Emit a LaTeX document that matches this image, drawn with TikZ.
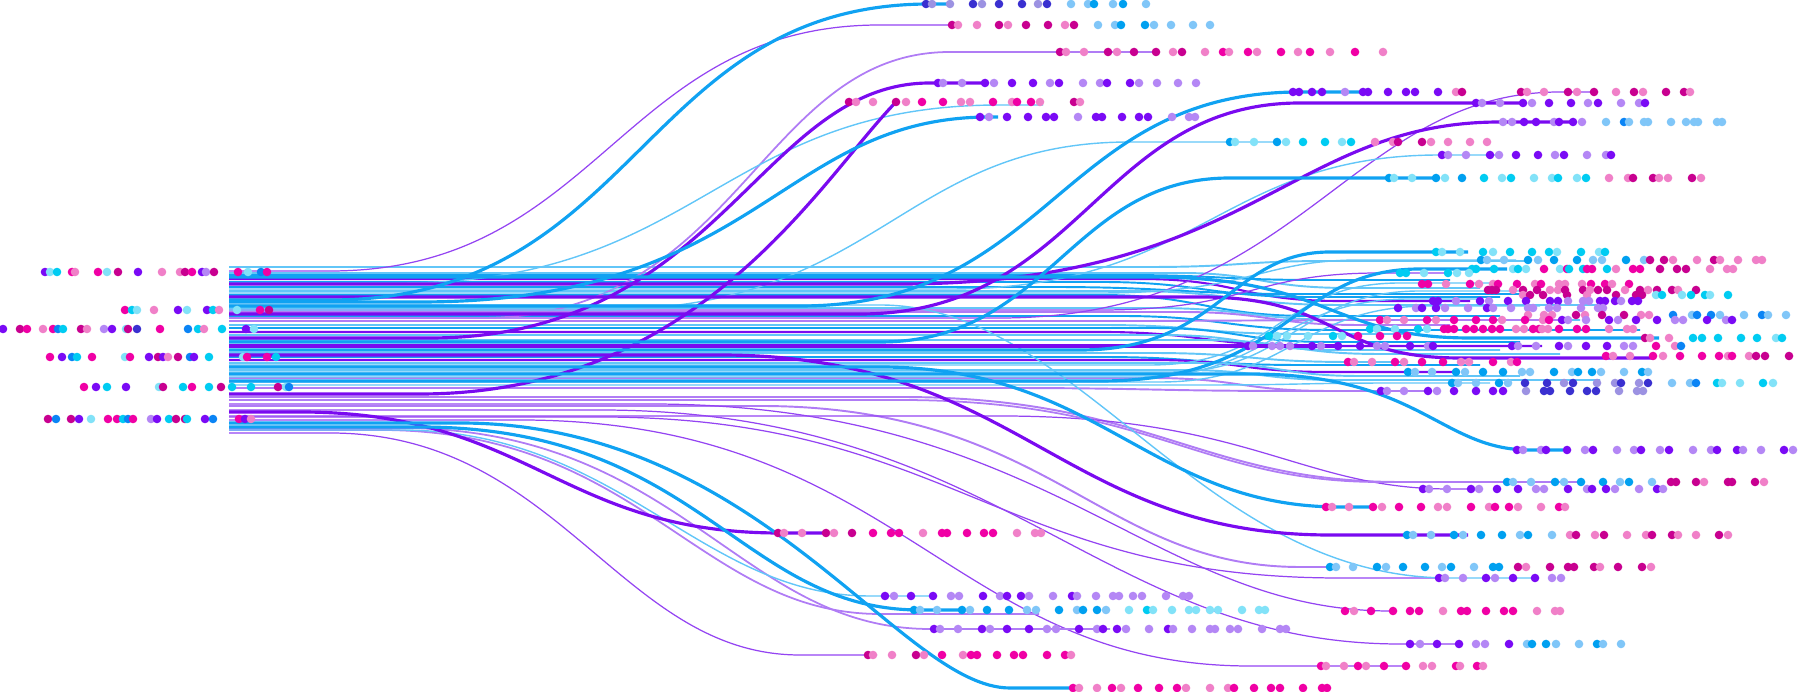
\documentclass[tikz,border=0pt]{standalone}
\usepackage{tikz}

\definecolor{vio}{HTML}{7A0AF5}
\definecolor{lvio}{HTML}{B487F5}
\definecolor{azu}{HTML}{00A0F0}
\definecolor{blu}{HTML}{0A84F5}
\definecolor{lblu}{HTML}{80C6F8}
\definecolor{cya}{HTML}{00CCF2}
\definecolor{lcya}{HTML}{82E2F8}
\definecolor{mag}{HTML}{F000A5}
\definecolor{dmag}{HTML}{C80090}
\definecolor{pnk}{HTML}{F080C8}
\definecolor{ind}{HTML}{3A30D0}
\definecolor{lind}{HTML}{9C92E2}
\definecolor{wireblue}{HTML}{10A2F2}
\definecolor{wireviolet}{HTML}{7A0AF0}
\definecolor{wirepurple}{HTML}{9444F2}
\definecolor{wirelilac}{HTML}{B07CF5}
\definecolor{wiresky}{HTML}{62C6F8}

\tikzset{
  tb/.style={draw=wireblue, line width=0.9pt},
  tv/.style={draw=wireviolet, line width=0.9pt},
  tp/.style={draw=wirepurple, line width=0.35pt},
  lp/.style={draw=wirelilac, line width=0.5pt},
  lb/.style={draw=wiresky, line width=0.4pt},
  bb/.style={draw=wireblue, line width=0.55pt},
  bv/.style={draw=wireviolet, line width=0.6pt},
  bl/.style={draw=wiresky, line width=0.55pt},
  bp/.style={draw=wirelilac, line width=0.55pt}
}

% a row of dots at height #1, list of x/colour
\newcommand{\dotrow}[2]{\foreach \px/\pc in {#2}{\fill[fill=\pc] (\px,#1) circle (4.3);}}
% a wire leaving the bundle at height #2, bending over #3..#6 to height #7, ending at #8
\newcommand{\wire}[8]{\draw[#1] (229,#2) -- (#3,#2) .. controls (#4,#2) and (#5,#7) .. (#6,#7) -- (#8,#7);}

\begin{document}
\begin{tikzpicture}[x=0.01cm, y=-0.01cm]
  \useasboundingbox (0,0) rectangle (1800,692);

  % Bundle wires running into the right-hand cluster
  \wire{bl}{267}{1150}{1240}{1240}{1330}{261}{1530}
  \wire{bl}{273}{1180}{1260}{1260}{1350}{288}{1480}
  \wire{bb}{275}{1120}{1220}{1220}{1320}{280}{1450}
  \wire{bv}{279}{1140}{1240}{1240}{1340}{301}{1470}
  \wire{bb}{282}{1100}{1200}{1210}{1310}{297}{1500}
  \wire{bb}{287}{1050}{1170}{1180}{1300}{294}{1520}
  \wire{bl}{291}{1130}{1230}{1240}{1340}{305}{1600}
  \wire{bb}{295}{1100}{1200}{1210}{1310}{316}{1500}
  \wire{bl}{308}{1150}{1250}{1250}{1350}{320}{1580}
  \wire{bp}{312}{1180}{1270}{1270}{1360}{325}{1450}
  \wire{bb}{316}{1120}{1220}{1230}{1330}{330}{1640}
  \wire{bp}{321}{1150}{1250}{1250}{1350}{320}{1563}
  \wire{bl}{325}{1100}{1200}{1200}{1300}{334}{1420}
  \wire{bb}{328}{1150}{1240}{1240}{1330}{342}{1520}
  \wire{bv}{332}{1100}{1200}{1210}{1310}{346}{1542}
  \wire{bl}{335}{1160}{1250}{1250}{1340}{350}{1500}
  \wire{bl}{340}{1200}{1290}{1290}{1380}{354}{1560}
  \wire{bl}{353}{1150}{1250}{1250}{1350}{362}{1400}
  \wire{bb}{357}{1100}{1200}{1200}{1300}{365}{1480}
  \wire{bv}{360}{1150}{1240}{1240}{1330}{372}{1456}
  \wire{bl}{363}{1200}{1280}{1280}{1360}{376}{1520}
  \wire{bl}{370}{1180}{1260}{1260}{1340}{380}{1600}
  \wire{bp}{378}{1150}{1240}{1240}{1330}{391}{1428}
  \wire{bp}{388}{1000}{1150}{1150}{1300}{391}{1381}
  \wire{bp}{397}{900}{1150}{1200}{1400}{482}{1507}
  \wire{bp}{406}{760}{1050}{1100}{1300}{567}{1330}

  % Thin wires
  \wire{tp}{271}{330}{600}{620}{880}{25}{960}
  \wire{tp}{318}{1000}{1300}{1350}{1560}{92}{1594}
  \wire{tp}{310}{1100}{1250}{1250}{1380}{273}{1450}
  \wire{tp}{416}{1000}{1250}{1300}{1450}{489}{1471}
  \wire{tp}{433}{330}{560}{620}{800}{655}{877}
  \wire{tp}{420}{520}{900}{950}{1250}{666}{1406}
  \wire{tp}{410}{600}{1000}{1100}{1400}{644}{1459}
  \wire{tp}{404}{650}{1050}{1150}{1390}{611}{1393}
  \wire{tp}{417}{600}{950}{1000}{1340}{578}{1440}
  \wire{lp}{318}{480}{740}{760}{950}{52}{1157}
  \wire{lp}{400}{900}{1150}{1200}{1380}{482}{1581}
  \wire{lp}{430}{380}{640}{700}{880}{614}{1039}
  \wire{lp}{428}{400}{680}{740}{930}{629}{1110}
  \wire{lb}{283}{400}{700}{720}{1000}{105}{1043}
  \wire{lb}{310}{600}{880}{900}{1130}{142}{1277}
  \wire{lb}{289}{950}{1200}{1220}{1440}{155}{1497}
  \wire{lb}{293}{1100}{1250}{1260}{1360}{260}{1516}
  \wire{lb}{305}{880}{1080}{1200}{1450}{578}{1535}
  \wire{lb}{430}{400}{620}{700}{870}{596}{933}
  \wire{lb}{385}{1200}{1300}{1300}{1400}{383}{1490}
  \wire{lb}{365}{1150}{1280}{1280}{1400}{283}{1500}
  \wire{lb}{372}{1170}{1290}{1300}{1420}{291}{1520}
  \wire{lb}{377}{1140}{1270}{1280}{1410}{299}{1480}
  \wire{lb}{382}{1160}{1290}{1300}{1430}{306}{1540}

  % Thick wires
  \wire{tv}{338}{430}{720}{760}{930}{83}{985}
  \draw[tv] (229,394) -- (420,394) .. controls (700,394) and (820,180) .. (896,102);
  \wire{tv}{314}{860}{1080}{1100}{1300}{103}{1523}
  \wire{tv}{284}{900}{1250}{1290}{1500}{122}{1573}
  \wire{tv}{346}{1200}{1250}{1250}{1300}{346}{1338}
  \wire{tv}{297}{1200}{1340}{1330}{1460}{358}{1653}
  \wire{tv}{412}{300}{530}{560}{780}{533}{826}
  \wire{tv}{355}{720}{1020}{1060}{1330}{535}{1468}
  \wire{tb}{300}{330}{640}{640}{930}{4}{950}
  \wire{tb}{302}{420}{760}{780}{990}{117}{998}
  \wire{tb}{306}{800}{1050}{1060}{1300}{92}{1368}
  \wire{tb}{342}{880}{1050}{1070}{1230}{178}{1436}
  \wire{tb}{350}{1080}{1220}{1230}{1330}{252}{1468}
  \wire{tb}{381}{1100}{1290}{1290}{1420}{269}{1507}
  \wire{tb}{277}{1150}{1330}{1330}{1470}{338}{1659}
  \wire{tb}{374}{1250}{1420}{1440}{1530}{450}{1563}
  \wire{tb}{367}{880}{1100}{1150}{1340}{507}{1376}
  \wire{tb}{427}{420}{700}{740}{920}{610}{962}
  \wire{tb}{423}{460}{760}{900}{1010}{688}{1081}

  % Dots on the left
  \dotrow{272}{45/vio,50/lcya,57/cya,72/mag,75/pnk,98/mag,107/lcya,118/dmag,138/vio,162/pnk,180/pnk,185/dmag,192/mag,202/vio,206/lvio,214/dmag,238/mag,248/lcya,261/blu,267/mag}
  \dotrow{310}{125/mag,132/cya,137/lcya,154/pnk,178/vio,187/lcya,207/vio,213/cya,219/pnk,237/lcya,260/mag,269/dmag}
  \dotrow{329}{3/vio,20/dmag,27/mag,43/pnk,53/mag,58/blu,63/cya,81/dmag,87/pnk,104/lvio,112/vio,126/lcya,128/dmag,137/ind,160/mag,188/blu,198/cya,204/pnk,222/cya,246/vio,254/lcya}
  \dotrow{357}{50/mag,62/vio,72/blu,77/cya,92/mag,125/lcya,130/mag,149/vio,158/dmag,163/vio,168/pnk,178/dmag,190/blu,194/vio,209/cya,243/lcya,247/mag,267/mag,276/cya}
  \dotrow{387}{84/mag,96/vio,107/cya,126/vio,159/lcya,163/dmag,183/cya,192/mag,209/cya,221/dmag,232/cya,251/cya,278/dmag,286/lcya,289/blu}
  \dotrow{419}{48/dmag,56/blu,71/dmag,79/vio,91/lcya,108/mag,117/mag,123/cya,128/blu,133/mag,151/lvio,157/vio,169/cya,176/dmag,185/dmag,187/cya,205/vio,213/blu,239/mag,245/vio,251/pnk}

  % Dots on the top rows
  \dotrow{4}{926/ind,932/lind,950/lind,973/ind,982/lind,999/ind,1022/ind,1038/lind,1047/ind,1071/lblu,1088/lblu,1094/azu,1113/lblu,1123/azu,1146/lblu}
  \dotrow{25}{952/dmag,958/pnk,977/pnk,999/dmag,1008/pnk,1026/dmag,1048/dmag,1065/pnk,1074/dmag,1098/lblu,1115/lblu,1121/azu,1145/azu,1154/lblu,1171/lblu,1193/lblu,1210/lblu}
  \dotrow{52}{1060/dmag,1066/pnk,1084/pnk,1108/dmag,1117/pnk,1134/dmag,1156/dmag,1173/pnk,1182/dmag,1205/pnk,1223/mag,1229/pnk,1248/mag,1257/pnk,1281/mag,1298/pnk,1310/mag,1330/pnk,1355/mag,1383/pnk}
  \dotrow{83}{938/vio,943/lvio,962/lvio,985/vio,994/lvio,1012/vio,1033/vio,1050/lvio,1059/vio,1083/lvio,1100/lvio,1107/vio,1130/vio,1139/lvio,1157/lvio,1178/lvio,1196/lvio}
  \dotrow{92}{1293/vio,1299/vio,1312/vio,1322/vio,1345/lvio,1363/vio,1368/vio,1388/vio,1406/vio,1415/vio,1438/vio,1456/pnk,1462/dmag,1521/dmag,1527/pnk,1544/pnk,1568/dmag,1577/pnk,1594/dmag,1616/pnk,1634/dmag,1643/pnk,1666/dmag,1684/dmag,1690/pnk}
  \dotrow{102}{849/dmag,856/pnk,873/pnk,896/dmag,906/pnk,922/mag,943/mag,961/pnk,970/pnk,993/mag,1012/pnk,1017/mag,1031/mag,1040/pnk,1074/dmag,1080/pnk}
  \dotrow{103}{1476/vio,1482/lvio,1500/lvio,1523/vio,1532/lvio,1549/vio,1571/vio,1588/lvio,1598/vio,1621/lvio,1639/lvio,1645/vio}
  \dotrow{117}{980/vio,989/lvio,1007/vio,1028/vio,1046/vio,1054/vio,1078/lvio,1096/vio,1102/vio,1122/vio,1139/vio,1148/vio,1172/lvio,1189/lvio,1195/lvio}
  \dotrow{122}{1503/lvio,1512/lvio,1524/vio,1536/vio,1554/lvio,1559/vio,1573/vio,1582/lvio,1606/lblu,1624/blu,1629/lblu,1644/lblu,1648/lblu,1671/lblu,1686/lblu,1694/lblu,1698/lblu,1717/lblu,1722/lblu}
  \dotrow{142}{1230/azu,1235/lcya,1254/lcya,1277/azu,1286/lcya,1303/cya,1325/cya,1342/lcya,1351/cya,1375/pnk,1393/pnk,1398/dmag,1422/dmag,1431/pnk,1448/pnk,1470/pnk,1487/pnk}
  \dotrow{155}{1442/vio,1448/lvio,1466/lvio,1490/vio,1499/lvio,1516/vio,1538/vio,1555/lvio,1564/vio,1587/lvio,1606/lvio,1611/vio}
  \dotrow{178}{1389/azu,1394/lcya,1412/lcya,1436/azu,1445/lcya,1462/azu,1484/cya,1502/lcya,1511/cya,1534/lcya,1552/lcya,1558/cya,1577/lcya,1586/cya,1609/pnk,1628/pnk,1633/dmag,1653/dmag,1659/pnk,1668/pnk,1692/dmag,1701/pnk}

  % Dots in the right-hand cluster
  \dotrow{252}{1436/cya,1442/lcya,1460/lcya,1483/cya,1493/lcya,1510/cya,1532/cya,1549/cya,1557/lcya,1581/cya,1599/lcya,1605/cya}
  \dotrow{260}{1481/azu,1487/lblu,1504/lblu,1528/azu,1538/lblu,1554/azu,1577/azu,1593/lblu,1602/lblu,1626/azu,1644/lblu,1650/dmag,1664/dmag,1673/pnk,1697/pnk,1714/dmag,1720/pnk,1738/pnk,1756/pnk,1762/pnk}
  \dotrow{269}{1472/cya,1476/cya,1494/cya,1513/lcya,1518/cya,1526/lcya,1544/mag,1560/lcya,1567/mag,1569/cya,1583/cya,1587/mag,1592/mag,1607/cya,1616/pnk,1633/mag,1640/mag,1660/dmag,1677/dmag,1686/dmag,1710/pnk,1727/pnk,1733/pnk}
  \dotrow{273}{1400/cya,1406/cya,1424/lcya,1448/cya,1457/lcya,1469/lcya}
  \dotrow{284}{1422/mag,1428/mag,1446/pnk,1470/mag,1479/pnk,1493/pnk,1498/mag,1517/mag,1535/pnk,1541/mag,1559/pnk,1565/pnk,1582/pnk,1591/mag,1605/mag,1612/pnk,1629/mag}
  \dotrow{290}{1488/dmag,1492/dmag,1496/dmag,1513/pnk,1523/dmag,1537/dmag,1550/pnk,1558/pnk,1565/dmag,1583/dmag,1590/pnk,1598/dmag,1607/dmag,1625/pnk,1640/dmag,1648/pnk,1657/dmag,1672/dmag,1678/pnk,1696/dmag}
  \dotrow{295}{1523/pnk,1530/dmag,1543/dmag,1567/dmag,1587/pnk,1616/dmag,1636/dmag,1642/dmag,1656/lcya,1662/cya,1682/lcya,1691/cya,1705/cya,1710/lcya,1728/cya}
  \dotrow{301}{1433/vio,1438/vio,1456/lvio,1480/vio,1489/lvio,1508/vio,1526/vio,1550/vio,1558/vio,1568/lvio,1583/lvio,1589/lvio,1600/vio,1605/vio,1615/vio,1621/lvio,1632/vio,1638/vio}
  \dotrow{308}{1398/vio,1416/lvio,1422/vio,1436/vio,1445/lvio,1468/lvio,1487/vio,1493/lvio,1511/lvio,1528/lvio,1533/lvio,1549/lvio,1557/lvio,1581/lvio,1598/lvio,1603/lvio}
  \dotrow{315}{1528/pnk,1544/pnk,1552/pnk,1576/dmag,1585/pnk,1602/dmag,1624/dmag,1641/pnk,1649/pnk,1673/blu,1692/lblu,1697/blu,1711/blu,1720/lblu,1744/lblu,1762/blu,1768/lblu,1786/lblu}
  \dotrow{320}{1380/mag,1387/pnk,1404/pnk,1427/mag,1436/pnk,1454/mag,1476/mag,1493/mag,1502/pnk,1525/mag,1543/pnk,1549/mag,1562/vio,1568/lvio,1586/lvio,1609/vio,1618/lvio,1636/vio,1657/vio,1675/lvio,1683/lvio,1707/vio,1726/lvio,1732/vio}
  \dotrow{329}{1370/cya,1377/lcya,1395/lcya,1418/cya,1427/lcya,1444/mag,1448/mag,1454/mag,1466/mag,1474/mag,1483/mag,1492/mag,1500/mag,1516/pnk,1524/pnk,1533/mag,1539/mag,1542/pnk,1548/pnk,1559/mag,1577/mag,1586/mag,1609/pnk,1627/pnk,1633/pnk}
  \dotrow{336}{1269/cya,1277/lcya,1287/lcya,1308/lcya,1333/cya,1342/lcya,1358/mag,1380/mag,1397/mag,1407/mag}
  \dotrow{338}{1645/dmag,1650/pnk,1669/pnk,1693/cya,1702/cya,1718/cya,1741/cya,1757/cya,1776/lcya,1782/cya}
  \dotrow{346}{1248/vio,1253/lvio,1272/lvio,1280/lvio,1290/lvio,1312/vio,1321/lvio,1338/vio,1360/vio,1377/lvio,1385/lvio,1410/vio,1428/lvio,1433/vio,1512/vio,1518/lvio,1536/lvio,1559/vio,1568/lvio,1586/vio,1607/vio,1624/lvio,1633/lvio,1656/mag,1675/pnk,1681/blu}
  \dotrow{356}{1606/mag,1613/pnk,1630/pnk,1653/mag,1663/pnk,1680/mag,1702/mag,1719/mag,1728/pnk,1732/mag,1749/pnk,1756/dmag,1765/dmag,1789/dmag}
  \dotrow{362}{1348/mag,1354/pnk,1372/pnk,1395/mag,1404/pnk,1422/mag,1443/mag,1461/pnk,1469/pnk,1493/mag,1511/pnk,1517/mag}
  \dotrow{372}{1408/azu,1415/lblu,1432/lblu,1456/azu,1465/lblu,1483/azu,1503/azu,1522/lblu,1530/lblu,1554/azu,1572/lblu,1578/azu,1592/azu,1601/lblu,1624/lblu,1642/azu,1648/lblu}
  \dotrow{383}{1452/azu,1458/lblu,1476/lblu,1499/azu,1508/lblu,1525/ind,1547/ind,1564/lind,1573/ind,1597/lind,1615/lind,1621/ind,1639/lind,1648/ind,1672/lblu,1690/lblu,1696/blu,1717/cya,1722/lcya,1740/lcya,1763/cya,1773/lcya}
  \dotrow{391}{1381/vio,1387/lvio,1404/lvio,1428/vio,1437/lvio,1454/vio,1476/vio,1493/vio,1503/vio,1526/lind,1544/ind,1550/ind,1570/ind,1587/ind,1596/ind,1619/lind,1637/lind,1643/lind}

  % Dots on the lower rows
  \dotrow{450}{1517/vio,1523/lvio,1541/lvio,1546/vio,1567/vio,1585/lvio,1593/vio,1617/lvio,1634/lvio,1641/vio,1660/lvio,1669/vio,1693/lvio,1711/lvio,1717/vio,1737/vio,1743/lvio,1761/lvio,1784/vio,1793/lvio}
  \dotrow{482}{1507/azu,1513/lblu,1531/lblu,1555/azu,1564/lblu,1581/azu,1603/azu,1620/lblu,1629/azu,1652/lblu,1671/dmag,1676/dmag,1696/dmag,1704/pnk,1728/dmag,1732/dmag,1755/dmag,1764/pnk}
  \dotrow{489}{1423/vio,1429/lvio,1447/lvio,1471/vio,1479/lvio,1497/vio,1518/vio,1536/lvio,1544/lvio,1568/vio,1587/lvio,1592/vio,1606/vio,1615/lvio,1639/lvio,1657/vio,1663/lvio}
  \dotrow{507}{1326/mag,1332/pnk,1349/pnk,1373/mag,1382/pnk,1399/mag,1421/mag,1438/pnk,1447/pnk,1471/mag,1489/pnk,1495/mag,1509/mag,1518/pnk,1541/pnk,1559/mag,1565/pnk}
  \dotrow{533}{778/dmag,784/pnk,802/pnk,826/dmag,834/pnk,852/dmag,873/mag,891/mag,899/mag,923/pnk,942/mag,947/mag,967/mag,984/mag,993/mag,1017/pnk,1035/pnk,1041/pnk}
  \dotrow{535}{1407/azu,1413/lblu,1431/lblu,1454/azu,1463/lblu,1481/azu,1502/azu,1520/lblu,1528/azu,1552/lblu,1570/pnk,1576/dmag,1595/pnk,1604/dmag,1627/pnk,1646/pnk,1652/dmag,1672/dmag,1678/pnk,1696/pnk,1719/dmag,1728/pnk}
  \dotrow{567}{1330/azu,1336/lblu,1353/lblu,1377/azu,1386/lblu,1403/azu,1425/azu,1442/lblu,1451/azu,1474/lblu,1493/azu,1499/azu,1518/dmag,1526/pnk,1550/dmag,1568/dmag,1574/dmag,1594/dmag,1600/pnk,1618/dmag,1642/dmag,1651/pnk}
  \dotrow{578}{1439/vio,1445/lvio,1463/lvio,1486/vio,1495/lvio,1513/vio,1535/vio,1552/lvio,1561/lvio}
  \dotrow{596}{885/vio,894/lvio,911/vio,933/vio,951/lvio,959/lvio,983/vio,1000/lvio,1007/vio,1021/vio,1029/lvio,1053/lvio,1072/vio,1077/lvio,1096/lvio,1113/lvio,1119/lvio,1133/lvio,1142/lvio,1166/lvio,1183/lvio,1189/lvio}
  \dotrow{610}{914/azu,920/lblu,937/lblu,962/azu,970/lblu,987/azu,1009/azu,1027/lblu,1036/lblu,1059/azu,1077/lblu,1083/azu,1097/azu,1106/lblu,1129/lcya,1147/cya,1153/lcya,1172/lcya,1189/lcya,1196/lcya,1210/lcya,1218/lcya,1242/lcya,1259/lcya,1265/lcya}
  \dotrow{611}{1345/mag,1354/pnk,1371/mag,1393/mag,1410/mag,1419/mag,1443/pnk,1461/mag,1467/mag,1486/mag,1504/mag,1513/mag,1537/pnk,1555/pnk,1560/pnk}
  \dotrow{629}{934/vio,940/lvio,958/lvio,982/vio,990/lvio,1007/vio,1029/vio,1047/lvio,1056/lvio,1079/vio,1097/lvio,1103/vio,1117/vio,1126/lvio,1149/lvio,1168/vio,1173/lvio,1192/lvio,1210/lvio,1215/lvio,1230/lvio,1238/lvio,1262/lvio,1280/lvio,1286/lvio}
  \dotrow{644}{1410/vio,1420/lvio,1437/vio,1459/vio,1476/lvio,1485/lvio,1509/vio,1527/lblu,1532/azu,1546/azu,1556/lblu,1579/lblu,1597/azu,1603/lblu,1621/lblu}
  \dotrow{655}{868/dmag,873/pnk,892/pnk,916/dmag,924/pnk,942/mag,963/pnk,971/mag,977/mag,997/mag,1014/mag,1023/mag,1047/mag,1065/mag,1071/pnk}
  \dotrow{666}{1321/mag,1326/pnk,1344/pnk,1358/mag,1366/pnk,1384/mag,1406/mag,1423/pnk,1432/pnk,1456/mag,1460/pnk,1477/mag,1483/pnk}
  \dotrow{688}{1073/mag,1079/pnk,1097/pnk,1112/mag,1121/pnk,1138/mag,1159/mag,1177/mag,1186/pnk,1210/pnk,1228/pnk,1234/mag,1254/mag,1271/mag,1280/mag,1303/mag,1322/mag,1327/mag}
\end{tikzpicture}
\end{document}
